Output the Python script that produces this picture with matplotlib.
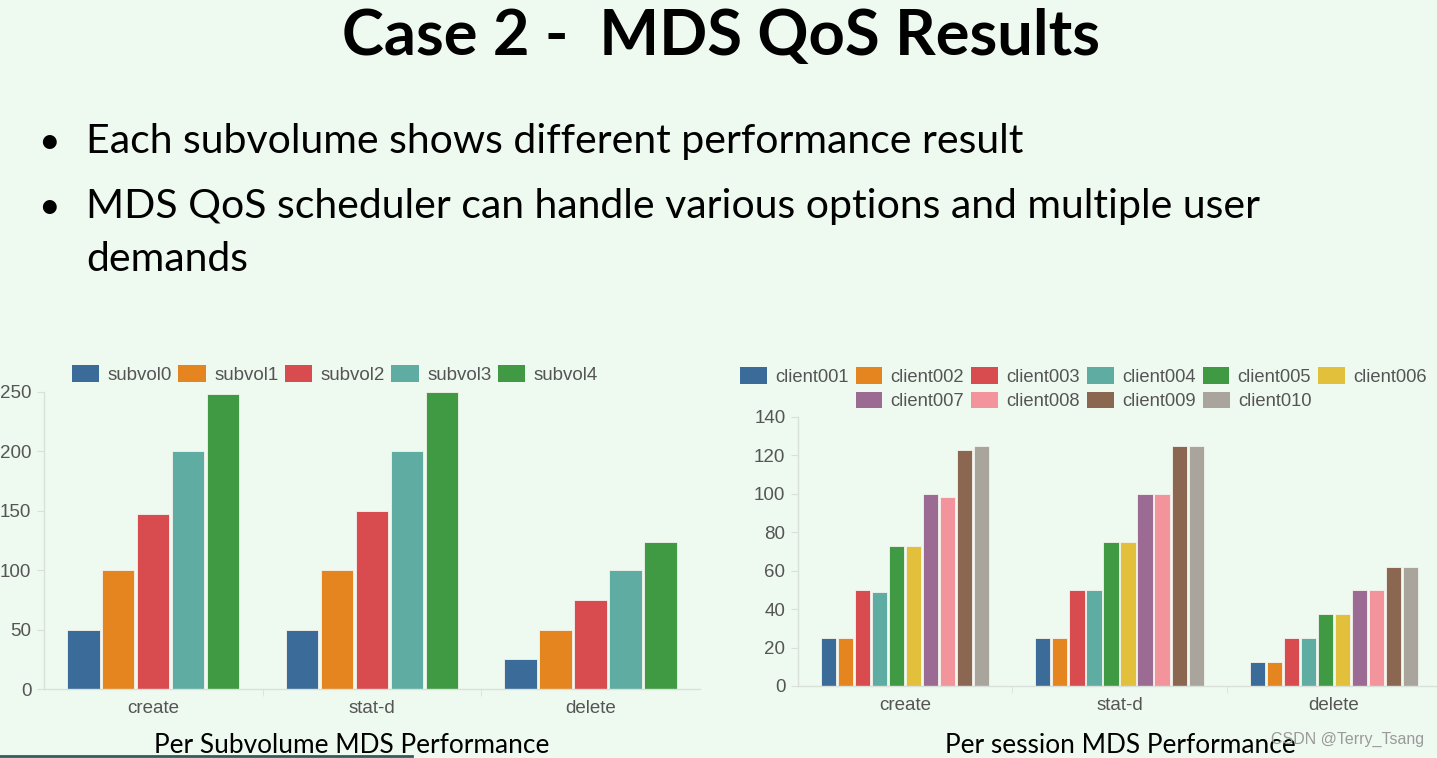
import numpy as np
import matplotlib.pyplot as plt
from matplotlib.patches import Patch

# data
ops = ["create", "stat-d", "delete"]

subvols = ["subvol0", "subvol1", "subvol2", "subvol3", "subvol4"]
subvol_vals = [
    [50, 50, 25],
    [100, 100, 50],
    [147, 150, 75],
    [200, 200, 100],
    [248, 250, 124],
]

clients = ["client001", "client002", "client003", "client004", "client005",
           "client006", "client007", "client008", "client009", "client010"]
client_vals = [
    [25, 25, 12.5],
    [25, 25, 12.5],
    [50, 50, 25],
    [49, 50, 25],
    [73, 75, 37.5],
    [73, 75, 37.5],
    [100, 100, 50],
    [98.5, 100, 50],
    [123, 125, 62],
    [125, 125, 62],
]

subvol_colors = ["#3b6b98", "#e5851f", "#d84b4f", "#5eaca2", "#3f9a43"]
client_colors = ["#3b6b98", "#e5851f", "#d84b4f", "#5eaca2", "#3f9a43",
                 "#e2c03b", "#9b6b93", "#f3939c", "#8b6650", "#a9a59c"]

bg = "#eef9f0"
tick_col = "#555555"
spine_col = "#d9e0da"

fig = plt.figure(figsize=(14.37, 7.58), dpi=100, facecolor=bg)

# slide text
fig.text(0.502, 0.951, "Case 2 -  MDS QoS Results", ha="center", va="center",
         fontsize=45.5, fontweight="bold", family="Lato", color="#000000")
fig.text(0.034, 0.813, "\u2022", ha="center", va="center", fontsize=27, family="Lato")
fig.text(0.060, 0.813, "Each subvolume shows different performance result",
         ha="left", va="center", fontsize=29.5, family="Lato")
fig.text(0.034, 0.727, "\u2022", ha="center", va="center", fontsize=27, family="Lato")
fig.text(0.060, 0.727, "MDS QoS scheduler can handle various options and multiple user",
         ha="left", va="center", fontsize=29.5, family="Lato")
fig.text(0.060, 0.658, "demands", ha="left", va="center", fontsize=29.5, family="Lato")


def style_axis(ax, ymax, step):
    ax.set_facecolor(bg)
    ax.set_xlim(-0.5, 2.5)
    ax.set_ylim(0, ymax)
    ax.set_yticks(np.arange(0, ymax + 1, step))
    ax.set_xticks(range(len(ops)))
    ax.set_xticklabels(ops)
    ax.set_xticks([0.5, 1.5], minor=True)
    for s in ["top", "right"]:
        ax.spines[s].set_visible(False)
    for s in ["left", "bottom"]:
        ax.spines[s].set_color(spine_col)
        ax.spines[s].set_linewidth(1.0)
    ax.tick_params(axis="both", colors=spine_col, labelcolor=tick_col, labelsize=13.5)
    ax.tick_params(axis="x", which="major", length=0, pad=8)
    ax.tick_params(axis="x", which="minor", length=5, color=spine_col)
    ax.tick_params(axis="y", length=5, pad=4)
    for lbl in ax.get_xticklabels() + ax.get_yticklabels():
        lbl.set_family("Liberation Sans")


# left chart
ax1 = fig.add_axes([0.0306, 0.091, 0.4565, 0.392])
x = np.arange(len(ops))
pitch1 = 0.16
for i, (name, vals) in enumerate(zip(subvols, subvol_vals)):
    ax1.bar(x + (i - 2) * pitch1, vals, width=0.148, color=subvol_colors[i],
            edgecolor="#f4f4ee", linewidth=0.6, label=name)
style_axis(ax1, 250, 50)

h1 = [Patch(facecolor=c, edgecolor="none") for c in subvol_colors]
fig.legend(h1, subvols, loc="center", bbox_to_anchor=(0.233, 0.506), ncol=5,
           frameon=False, prop={"family": "Liberation Sans", "size": 13.5},
           labelcolor=tick_col, handlelength=1.45, handleheight=1.0,
           handletextpad=0.45, columnspacing=0.35)

# right chart
ax2 = fig.add_axes([0.5553, 0.095, 0.4475, 0.355])
pitch2 = 0.0795
for i, (name, vals) in enumerate(zip(clients, client_vals)):
    ax2.bar(x + (i - 4.5) * pitch2, vals, width=0.071, color=client_colors[i],
            edgecolor="#f4f4ee", linewidth=0.6, label=name)
style_axis(ax2, 140, 20)

h2 = [Patch(facecolor=c, edgecolor="none") for c in client_colors]
leg_kw = dict(loc="center", frameon=False,
              prop={"family": "Liberation Sans", "size": 13.2},
              labelcolor=tick_col, handlelength=1.45, handleheight=1.0,
              handletextpad=0.45, columnspacing=0.4)
fig.legend(h2[:6], clients[:6], bbox_to_anchor=(0.754, 0.503), ncol=6, **leg_kw)
fig.legend(h2[6:], clients[6:], bbox_to_anchor=(0.754, 0.471), ncol=4, **leg_kw)

# chart captions
fig.text(0.245, 0.016, "Per Subvolume MDS Performance", ha="center", va="center",
         fontsize=18.9, family="Lato", color="#000000")
fig.text(0.780, 0.016, "Per session MDS Performance", ha="center", va="center",
         fontsize=18.9, family="Lato", color="#000000")
fig.text(0.938, 0.025, "CSDN @Terry_Tsang", ha="center", va="center",
         fontsize=11.5, family="Liberation Sans", color="#9a9a9a")

# bottom bar fragment
fig.add_artist(plt.Line2D([0, 0.287], [0.002, 0.002], color="#2f5d5a", linewidth=2))

fig.savefig("out.png", dpi=100, facecolor=bg)
